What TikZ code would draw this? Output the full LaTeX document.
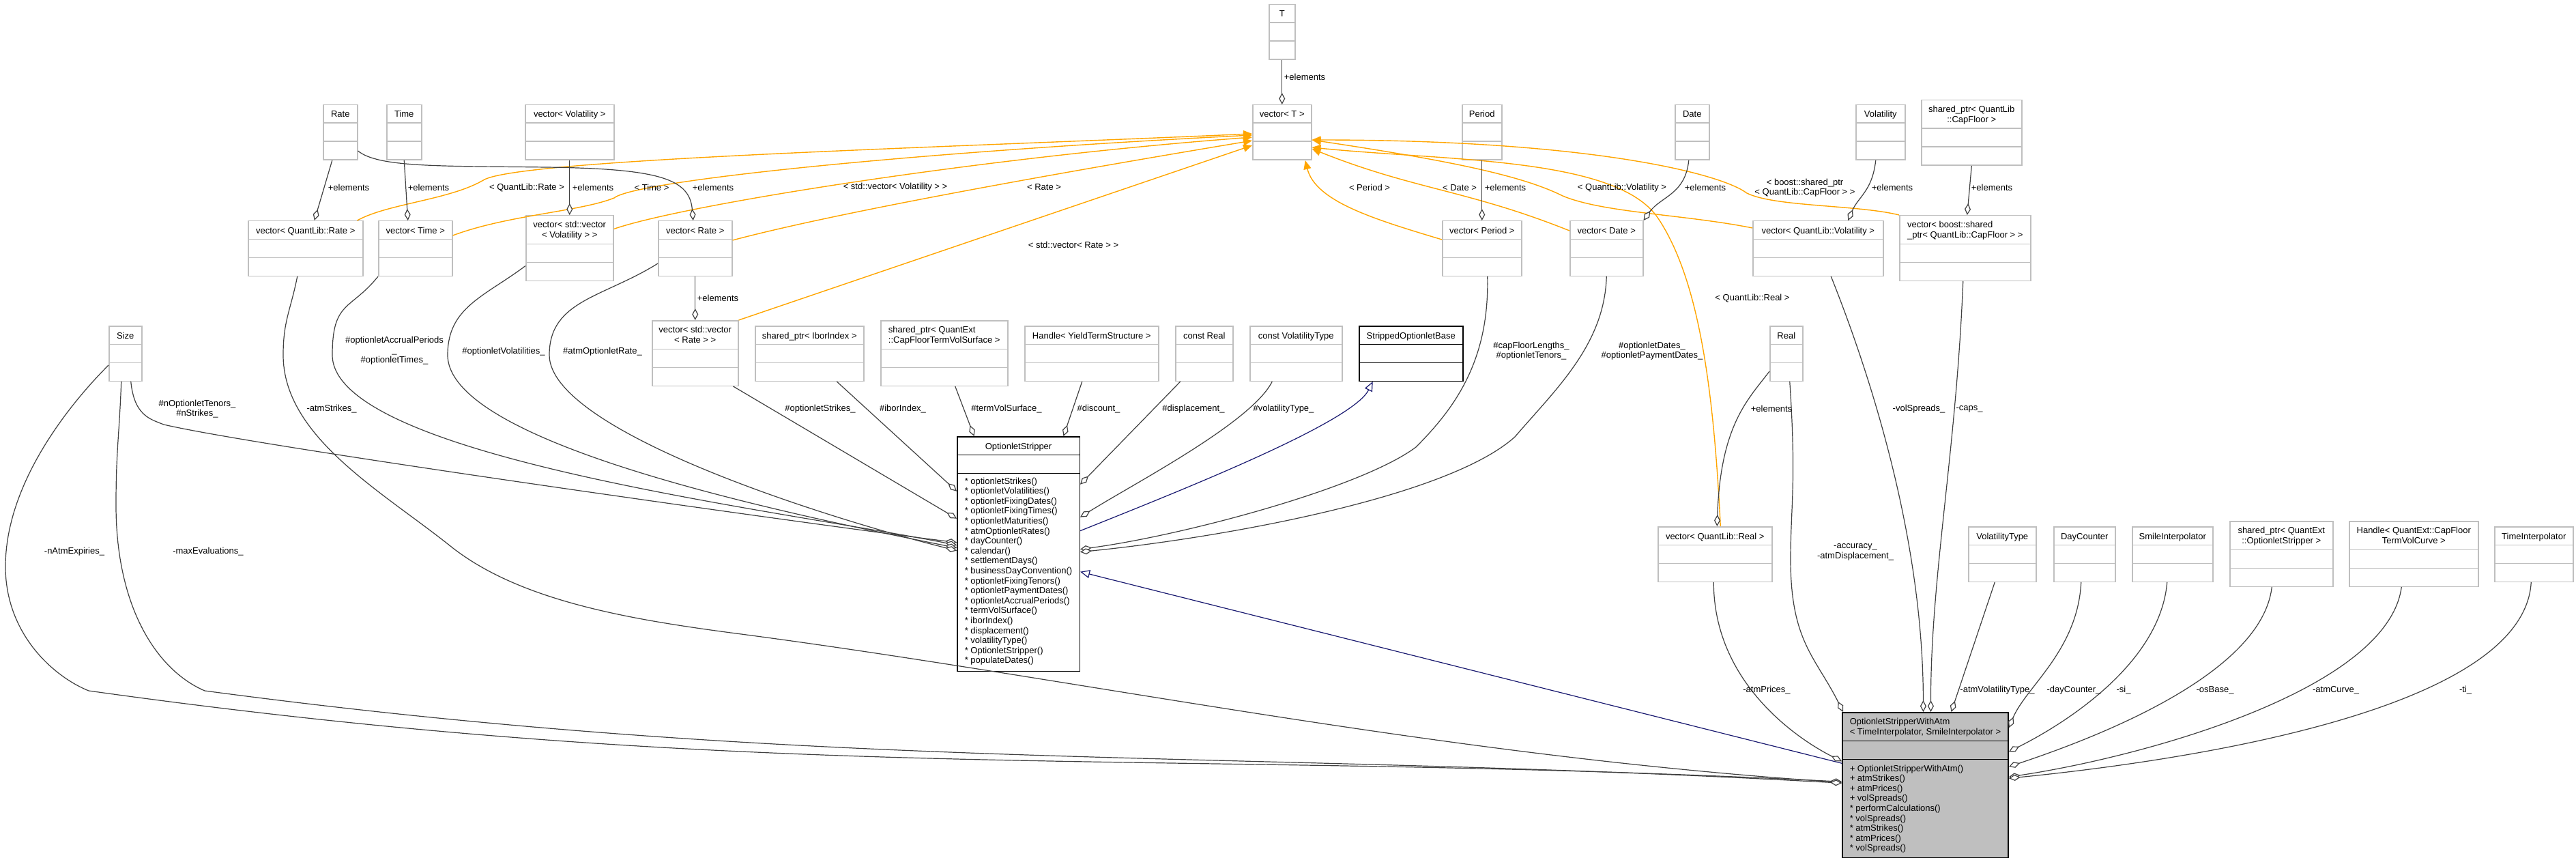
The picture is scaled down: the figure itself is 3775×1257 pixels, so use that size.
\documentclass[tikz,border=0pt]{standalone}
\usepackage{fontspec}
\setmainfont{Liberation Sans}
\usepackage{tikz}
\usetikzlibrary{shapes.multipart}
\usetikzlibrary{arrows.meta}
\definecolor{boxgrey}{HTML}{BFBFBF}
\definecolor{edgegrey}{HTML}{404040}
\definecolor{tmplorange}{HTML}{FFA500}
\definecolor{inhblue}{HTML}{191970}
\definecolor{hilite}{HTML}{BFBFBF}
\newcommand{\ttl}[1]{\rule[-7.5pt]{0pt}{25pt}#1}
\newcommand{\ttlb}[2]{\rule{0pt}{17pt}#1\\#2\rule[-8.4pt]{0pt}{8.4pt}}
\newcommand{\cmpt}{\rule{0pt}{25.5pt}}
\newcommand{\emptyparts}{\nodepart{two}\cmpt\nodepart{three}\cmpt}
\tikzset{cls/.style={rectangle split,rectangle split parts=3,draw=boxgrey,fill=white,line width=1.5pt,inner xsep=5pt,inner ysep=0pt,anchor=north west,align=center,font=\fontsize{13}{14.6}\selectfont},
main/.style={cls,draw=black},
agg/.style={draw=edgegrey,line width=1.2pt,-{Diamond[fill=white,length=17pt,width=9pt]}},
tmpl/.style={draw=tmplorange,line width=1.4pt,-{Triangle[length=13pt,width=11pt]}},
inh/.style={draw=inhblue,line width=1.2pt,-{Triangle[fill=white,length=14pt,width=12pt]}},
lbl/.style={font=\fontsize{13}{14.6}\selectfont,align=center,inner sep=0pt}}
\begin{document}
\begin{tikzpicture}[x=1pt,y=-1pt]
\useasboundingbox (0,0) rectangle (3775,1257);
% top rows
\node (T) [cls, minimum width=38pt] at (1859,6) {\ttl{T}\emptyparts};
\node (vT) [cls, minimum width=86pt] at (1835,153) {\ttl{vector< T >}\emptyparts};
\node (rate) [cls, minimum width=50pt] at (473,153) {\ttl{Rate}\emptyparts};
\node (time) [cls, minimum width=51pt] at (566,153) {\ttl{Time}\emptyparts};
\node (vVol) [cls, minimum width=130pt] at (769,153) {\ttl{vector< Volatility >}\emptyparts};
\node (period) [cls, minimum width=58pt] at (2142,153) {\ttl{Period}\emptyparts};
\node (date) [cls, minimum width=50pt] at (2454,153) {\ttl{Date}\emptyparts};
\node (vol) [cls, minimum width=72pt] at (2719,153) {\ttl{Volatility}\emptyparts};
\node (cfPtr) [cls, minimum width=147pt] at (2815,146) {\ttlb{shared\_ptr< QuantLib}{::CapFloor >}\emptyparts};
\node (vQRate) [cls, minimum width=168pt] at (363,323) {\ttl{vector< QuantLib::Rate >}\emptyparts};
\node (vTime) [cls, minimum width=108pt] at (554,323) {\ttl{vector< Time >}\emptyparts};
\node (vvVol) [cls, minimum width=128pt] at (770,315) {\ttlb{vector< std::vector}{< Volatility > >}\emptyparts};
\node (vRate) [cls, minimum width=108pt] at (964,323) {\ttl{vector< Rate >}\emptyparts};
\node (vPeriod) [cls, minimum width=116pt] at (2113,323) {\ttl{vector< Period >}\emptyparts};
\node (vDate) [cls, minimum width=107pt] at (2300,323) {\ttl{vector< Date >}\emptyparts};
\node (vQVol) [cls, minimum width=191pt] at (2568,323) {\ttl{vector< QuantLib::Volatility >}\emptyparts};
\node (vCapFloor) [cls, align=left, minimum width=192pt] at (2783,315) {\ttlb{vector< boost::shared}{\_ptr< QuantLib::CapFloor > >}\emptyparts};
% middle row
\node (size) [cls, minimum width=48pt] at (159,477) {\ttl{Size}\emptyparts};
\node (vvRate) [cls, minimum width=126pt] at (955,469) {\ttlb{vector< std::vector}{< Rate > >}\emptyparts};
\node (ibor) [cls, minimum width=159pt] at (1106,477) {\ttl{shared\_ptr< IborIndex >}\emptyparts};
\node (tvs) [cls, align=left, minimum width=186pt] at (1290,469) {\ttlb{shared\_ptr< QuantExt}{::CapFloorTermVolSurface >}\emptyparts};
\node (yts) [cls, minimum width=196pt] at (1501,477) {\ttl{Handle< YieldTermStructure >}\emptyparts};
\node (cReal) [cls, minimum width=84pt] at (1722,477) {\ttl{const Real}\emptyparts};
\node (cVolType) [cls, minimum width=135pt] at (1831,477) {\ttl{const VolatilityType}\emptyparts};
\node (sob) [main, minimum width=152pt] at (1991,477) {\ttl{StrippedOptionletBase}\emptyparts};
\node (real) [cls, minimum width=48pt] at (2593,477) {\ttl{Real}\emptyparts};
\node (os) [main, align=left, minimum width=178pt, inner xsep=11pt, rectangle split part align={center,center,left}] at (1402,639) {\ttl{OptionletStripper}\nodepart{two}\cmpt\nodepart{three}\rule{0pt}{15pt}* optionletStrikes()\\* optionletVolatilities()\\* optionletFixingDates()\\* optionletFixingTimes()\\* optionletMaturities()\\* atmOptionletRates()\\* dayCounter()\\* calendar()\\* settlementDays()\\* businessDayConvention()\\* optionletFixingTenors()\\* optionletPaymentDates()\\* optionletAccrualPeriods()\\* termVolSurface()\\* iborIndex()\\* displacement()\\* volatilityType()\\* OptionletStripper()\\* populateDates()\rule[-11pt]{0pt}{11pt}};
% lower row
\node (vQReal) [cls, minimum width=167pt] at (2429,771) {\ttl{vector< QuantLib::Real >}\emptyparts};
\node (volType) [cls, minimum width=99pt] at (2884,771) {\ttl{VolatilityType}\emptyparts};
\node (dc) [cls, minimum width=90pt] at (3009,771) {\ttl{DayCounter}\emptyparts};
\node (si) [cls, minimum width=118pt] at (3124,771) {\ttl{SmileInterpolator}\emptyparts};
\node (osPtr) [cls, minimum width=151pt] at (3267,763) {\ttlb{shared\_ptr< QuantExt}{::OptionletStripper >}\emptyparts};
\node (atmCurve) [cls, minimum width=189pt] at (3442,763) {\ttlb{Handle< QuantExt::CapFloor}{TermVolCurve >}\emptyparts};
\node (ti) [cls, minimum width=115pt] at (3655,771) {\ttl{TimeInterpolator}\emptyparts};
\node (osAtm) [main, fill=hilite, align=left, minimum width=243pt, inner xsep=11pt, rectangle split part align={left,center,left}] at (2699,1043) {\ttlb{OptionletStripperWithAtm}{< TimeInterpolator, SmileInterpolator >}\nodepart{two}\cmpt\nodepart{three}\rule{0pt}{17pt}+ OptionletStripperWithAtm()\\+ atmStrikes()\\+ atmPrices()\\+ volSpreads()\\* performCalculations()\\* volSpreads()\\* atmStrikes()\\* atmPrices()\\* volSpreads()\rule[-9.2pt]{0pt}{9.2pt}};

% template instances
\draw[tmpl] ([xshift=-9pt]vQRate.north east) .. controls +(45,-25) and +(-50,30) .. (710,263) .. controls +(60,-30) and +(-450,20) .. ([yshift=-2pt]vT.west);
\draw[tmpl] ([yshift=19pt]vTime.east) .. controls +(80,-30) and +(-50,20) .. (900,290) .. controls +(30,-25) and +(-500,25) .. ([yshift=-4pt]vT.west);
\draw[tmpl] ([yshift=28pt]vvVol.east) .. controls +(100,-35) and +(-400,30) .. ([yshift=-7pt]vT.west);
\draw[tmpl] ([yshift=12pt]vRate.east) .. controls +(150,-40) and +(-300,50) .. ([yshift=-12pt]vT.west);
\draw[tmpl] (vvRate.north east) -- ([yshift=-19pt]vT.west);
\draw[tmpl] ([yshift=13pt]vPeriod.west) .. controls +(-100,-30) and +(15,60) .. ([xshift=34pt]vT.south);
\draw[tmpl] ([yshift=26pt]vDate.west) .. controls +(-150,-60) and +(150,60) .. ([yshift=-24pt]vT.east);
\draw[tmpl] ([yshift=30pt]vQVol.west) .. controls +(-100,-20) and +(60,25) .. (2290,287) .. controls +(-60,-30) and +(200,30) .. ([yshift=-11pt]vT.east);
\draw[tmpl] (vCapFloor.north west) .. controls +(-60,-15) and +(40,20) .. (2560,283) .. controls +(-40,-30) and +(400,0) .. ([yshift=-11pt]vT.east);
\draw[tmpl] ([xshift=8pt]vQReal.north) .. controls +(-10,-200) and +(60,90) .. (2430,320) .. controls +(-60,-90) and +(200,20) .. ([yshift=-22pt]vT.east);

% elements
\draw[agg] (T) -- (vT);
\draw[agg] ([xshift=-12pt]rate.south) -- ([xshift=13pt]vQRate.north);
\draw[agg] (time.south) -- ([xshift=-11pt]vTime.north);
\draw[agg] (vVol) -- (vvVol);
\draw[agg] ([yshift=-27pt]rate.east) .. controls +(30,25) and +(-150,-2) .. (800,245) .. controls +(170,2) and +(-5,-60) .. ([xshift=-3pt]vRate.north);
\draw[agg] (vRate) -- (vvRate);
\draw[agg] (period) -- (vPeriod);
\draw[agg] ([xshift=-5pt]date.south) .. controls +(-5,50) and +(25,-35) .. (vDate.north east);
\draw[agg] ([xshift=-7pt]vol.south) .. controls +(-5,45) and +(15,-35) .. ([xshift=44pt]vQVol.north);
\draw[agg] (cfPtr.south) -- ([xshift=3pt]vCapFloor.north);
\draw[agg] ([yshift=-26pt]real.west) .. controls +(-30,40) and +(5,-150) .. ([xshift=3pt]vQReal.north);

% OptionletStripper members
\draw[agg] ([xshift=8pt]size.south) .. controls +(5,50) and +(-20,-8) .. (240,622) .. controls +(150,35) and +(-150,-18) .. ([yshift=17pt]os.west);
\draw[agg] (vTime.south west) .. controls +(-40,50) and +(0,-80) .. (487,520) .. controls +(0,150) and +(-250,-50) .. ([yshift=13pt]os.west);
\draw[agg] ([yshift=-26pt]vvVol.west) .. controls +(-60,45) and +(0,-70) .. (656,520) .. controls +(0,130) and +(-250,-50) .. ([yshift=9pt]os.west);
\draw[agg] ([yshift=-22pt]vRate.west) .. controls +(-80,50) and +(0,-80) .. (805,520) .. controls +(0,110) and +(-200,-50) .. ([yshift=5pt]os.west);
\draw[agg] ([xshift=-8pt]vvRate.south east) -- ([yshift=52pt]os.west);
\draw[agg] ([xshift=40pt]ibor.south) -- ([yshift=92pt]os.west);
\draw[agg] ([xshift=16pt]tvs.south) -- ([xshift=-65pt]os.north);
\draw[agg] ([xshift=-14pt]yts.south) -- ([xshift=66pt]os.north);
\draw[agg] ([xshift=-35pt]cReal.south) -- ([yshift=102pt]os.east);
\draw[agg] ([xshift=-35pt]cVolType.south) .. controls +(-30,60) and +(80,-50) .. ([yshift=54pt]os.east);
\draw[agg] ([xshift=8pt]vPeriod.south) .. controls +(3,120) and +(60,-60) .. (2075,655) .. controls +(-80,60) and +(150,-20) .. ([yshift=7pt]os.east);
\draw[agg] (vDate.south) .. controls +(-3,100) and +(60,-70) .. (2220,640) .. controls +(-100,90) and +(200,-20) .. ([yshift=3pt]os.east);

% inheritance
\draw[inh] ([yshift=34pt]os.east) .. controls +(150,-60) and +(-30,60) .. ([xshift=-56pt]sob.south);
\draw[inh] ([yshift=32pt]osAtm.west) -- ([yshift=-26pt]os.east);

% OptionletStripperWithAtm members
\draw[agg] ([xshift=5pt]real.south) .. controls +(10,150) and +(0,-80) .. (2624,820) .. controls +(0,120) and +(-40,-80) .. ([xshift=2pt]osAtm.north west);
\draw[agg] ([xshift=19pt]vQVol.south) .. controls +(60,150) and +(0,-250) .. ([xshift=-3pt]osAtm.north);
\draw[agg] ([xshift=-3pt]vCapFloor.south) .. controls +(-10,250) and +(0,-200) .. ([xshift=8pt]osAtm.north);
\draw[agg] ([xshift=-11pt]volType.south) -- ([xshift=38pt]osAtm.north);
\draw[agg] ([xshift=-5pt]dc.south) .. controls +(-5,100) and +(25,-60) .. ([yshift=84pt]osAtm.east);
\draw[agg] ([xshift=-8pt]si.south) .. controls +(-10,120) and +(80,-40) .. ([yshift=49pt]osAtm.east);
\draw[agg] ([xshift=-14pt]osPtr.south) .. controls +(-15,130) and +(120,-40) .. ([yshift=27pt]osAtm.east);
\draw[agg] ([xshift=-18pt]atmCurve.south) .. controls +(-20,150) and +(200,-30) .. ([yshift=12pt]osAtm.east);
\draw[agg] ([xshift=-4pt]ti.south) .. controls +(-10,180) and +(300,-30) .. ([yshift=10pt]osAtm.east);
\draw[agg] ([xshift=-2pt]vQReal.south) .. controls +(0,150) and +(-60,-30) .. ([yshift=35pt]osAtm.west);
\draw[agg] ([xshift=-12pt]vQRate.south) .. controls +(-10,50) and +(0,-50) .. (415,520) .. controls +(0,120) and +(-100,-80) .. (660,800) .. controls +(100,80) and +(-150,-20) .. (1071,927) .. controls +(500,65) and +(-600,-40) .. ([yshift=4pt]osAtm.west);
\draw[agg] ([yshift=-17pt]size.west) .. controls +(-60,60) and +(0,-120) .. (8,830) .. controls +(0,100) and +(-50,-20) .. (130,1012) .. controls +(1000,140) and +(-1000,-50) .. ([yshift=5pt]osAtm.west);
\draw[agg] ([xshift=-6pt]size.south) .. controls +(-3,80) and +(0,-80) .. (170,740) .. controls +(0,150) and +(-70,-30) .. (300,1012) .. controls +(900,120) and +(-900,-50) .. ([yshift=3pt]osAtm.west);

% labels
\node (lT) [lbl] at (1912,113) {+elements};
\node (lRateE) [lbl] at (511,275) {+elements};
\node (lTimeE) [lbl] at (628,275) {+elements};
\node (lVolE) [lbl] at (869,275) {+elements};
\node (lRateE2) [lbl] at (1045,275) {+elements};
\node (lQRateT) [lbl] at (772,275) {< QuantLib::Rate >};
\node (lTimeT) [lbl] at (955,275) {< Time >};
\node (lVVolT) [lbl] at (1312,274) {< std::vector< Volatility > >};
\node (lRateT) [lbl] at (1530,274) {< Rate >};
\node (lVVRateT) [lbl] at (1573,359) {< std::vector< Rate > >};
\node (lvRateE) [lbl] at (1052,437) {+elements};
\node (lPeriodT) [lbl] at (2007,275) {< Period >};
\node (lDateT) [lbl] at (2139,275) {< Date >};
\node (lPeriodE) [lbl] at (2206,275) {+elements};
\node (lQVolT) [lbl] at (2377,275) {< QuantLib::Volatility >};
\node (lDateE) [lbl] at (2499,275) {+elements};
\node (lCapT) [lbl] at (2645,275) {< boost::shared\_ptr\\< QuantLib::CapFloor > >};
\node (lVolE2) [lbl] at (2773,275) {+elements};
\node (lCapE) [lbl] at (2919,275) {+elements};
\node (lQRealT) [lbl] at (2568,437) {< QuantLib::Real >};
\node (lRealE) [lbl] at (2596,599) {+elements};
\node (lSize) [lbl] at (289,599) {\#nOptionletTenors\_\\\#nStrikes\_};
\node (lAtmStrikes) [lbl] at (486,599) {-atmStrikes\_};
\node (lAccrual) [lbl] at (578,514) {\#optionletAccrualPeriods\\\_\\\#optionletTimes\_};
\node (lVolats) [lbl] at (738,515) {\#optionletVolatilities\_};
\node (lAtmRate) [lbl] at (883,515) {\#atmOptionletRate\_};
\node (lNAtm) [lbl] at (109,808) {-nAtmExpiries\_};
\node (lMaxEval) [lbl] at (305,808) {-maxEvaluations\_};
\node (lStrikes) [lbl] at (1202,599) {\#optionletStrikes\_};
\node (lIbor) [lbl] at (1323,599) {\#iborIndex\_};
\node (lTvs) [lbl] at (1475,599) {\#termVolSurface\_};
\node (lDisc) [lbl] at (1610,599) {\#discount\_};
\node (lDispl) [lbl] at (1749,599) {\#displacement\_};
\node (lVolType) [lbl] at (1881,599) {\#volatilityType\_};
\node (lTenors) [lbl] at (2244,514) {\#capFloorLengths\_\\\#optionletTenors\_};
\node (lDates) [lbl] at (2421,514) {\#optionletDates\_\\\#optionletPaymentDates\_};
\node (lSpreads) [lbl] at (2812,599) {-volSpreads\_};
\node (lCaps) [lbl] at (2886,599) {-caps\_};
\node (lAccuracy) [lbl] at (2719,809) {-accuracy\_\\-atmDisplacement\_};
\node (lPrices) [lbl] at (2589,1011) {-atmPrices\_};
\node (lAtmVT) [lbl] at (2927,1011) {-atmVolatilityType\_};
\node (lDc) [lbl] at (3039,1011) {-dayCounter\_};
\node (lSi) [lbl] at (3112,1011) {-si\_};
\node (lOsBase) [lbl] at (3246,1011) {-osBase\_};
\node (lAtmCurve) [lbl] at (3423,1011) {-atmCurve\_};
\node (lTi) [lbl] at (3613,1011) {-ti\_};
\end{tikzpicture}
\end{document}
